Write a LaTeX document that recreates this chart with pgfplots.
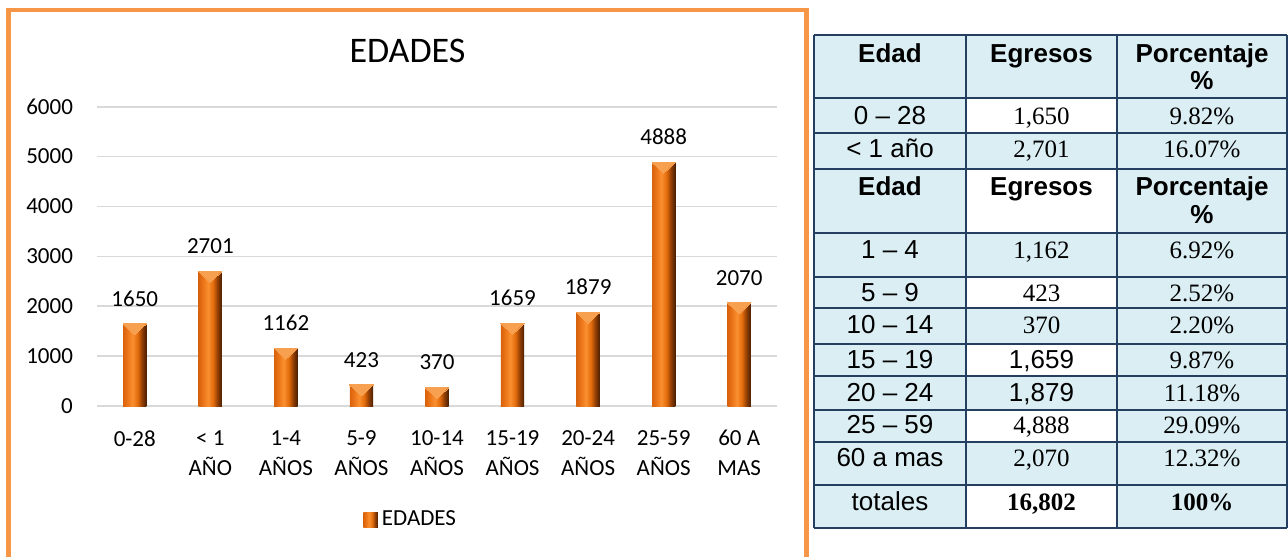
\documentclass[border=0pt]{standalone}
\usepackage{fontspec}
\setmainfont{Carlito}
\newfontfamily\arial{Liberation Sans}
\newfontfamily\tnr{Liberation Serif}
\usepackage{pgfplots}
\pgfplotsset{compat=1.18}
\definecolor{chartorange}{HTML}{F79646}
\definecolor{gridgray}{HTML}{D9D9D9}
\definecolor{tblue}{HTML}{DAEEF3}
\definecolor{tborder}{HTML}{243F60}
\definecolor{barlight}{HTML}{F7A050}
\definecolor{ba}{HTML}{D9620C}
\definecolor{bb}{HTML}{EC761A}
\definecolor{bc}{HTML}{FA9030}
\definecolor{bd}{HTML}{E36C0C}
\definecolor{be}{HTML}{8C3C04}
\definecolor{bf}{HTML}{4A1E00}
\pgfdeclarehorizontalshading{barshade}{100bp}{color(0bp)=(ba); color(25bp)=(ba); color(35bp)=(bb); color(45bp)=(bc); color(56bp)=(bd); color(66bp)=(be); color(75bp)=(bf); color(100bp)=(bf)}
\pgfplotsset{mybar/.style={ybar, bar width=11.65pt, draw=none, shade, shading=barshade,
  nodes near coords, point meta=explicit symbolic,
  every node near coord/.append style={font=\fontsize{11.5}{15}\selectfont, inner sep=0pt, yshift=8.5pt, text=black},
  legend image code/.code={\shade[shading=barshade] (0pt,-3.67pt) rectangle (7.35pt,3.67pt);}}}
\newcommand{\cell}[4]{\node[anchor=base, inner sep=0pt, font=#3] at (#1,#2) {#4};}
\newcommand{\fA}{\arial\fontsize{13}{15}\selectfont}
\newcommand{\fB}{\arial\bfseries\fontsize{13}{15}\selectfont}
\newcommand{\fT}{\tnr\fontsize{12.5}{15}\selectfont}
\newcommand{\fTB}{\tnr\bfseries\fontsize{12.5}{15}\selectfont}
\begin{document}
\begin{tikzpicture}
\useasboundingbox (0,0) rectangle (644pt,-278pt);
\begin{axis}[
  at={(48.5pt,-203pt)}, anchor=south west,
  scale only axis, width=340pt, height=149.65pt,
  xmin=-0.5, xmax=8.5, ymin=0, ymax=6000,
  xtick={0,...,8},
  xticklabels={0-28,{< 1\\AÑO},{1-4\\AÑOS},{5-9\\AÑOS},{10-14\\AÑOS},{15-19\\AÑOS},{20-24\\AÑOS},{25-59\\AÑOS},{60 A\\MAS}},
  ytick={0,1000,...,6000},
  yticklabels={0,1000,2000,3000,4000,5000,6000},
  axis lines*=left,
  axis line style={-},
  x axis line style={draw=gridgray, line width=0.8pt},
  y axis line style={draw=none},
  major tick length=0pt,
  ymajorgrids, grid style={draw=gridgray, line width=0.8pt},
  tick label style={font=\fontsize{11.5}{15}\selectfont, inner sep=0pt},
  yticklabel style={xshift=-11.85pt},
  xticklabel style={align=center, anchor=north, yshift=-12pt},
  clip=false,
  legend style={at={(0.391,-0.381)}, anchor=west, draw=none, fill=none, inner sep=0pt, font=\fontsize{11.5}{15}\selectfont},
]
\addplot[mybar] coordinates {(0,1650)[1650]};
\addlegendentry{EDADES}
\addplot[mybar, forget plot] coordinates {(1,2701)[2701]};
\addplot[mybar, forget plot] coordinates {(2,1162)[1162]};
\addplot[mybar, forget plot] coordinates {(3,423)[423]};
\addplot[mybar, forget plot] coordinates {(4,370)[370]};
\addplot[mybar, forget plot] coordinates {(5,1659)[1659]};
\addplot[mybar, forget plot] coordinates {(6,1879)[1879]};
\addplot[mybar, forget plot] coordinates {(7,4888)[4888]};
\addplot[mybar, forget plot] coordinates {(8,2070)[2070]};
\addplot[only marks, forget plot, mark=triangle*, mark size=6.73pt,
  mark options={draw=barlight, fill=barlight, line width=0pt, yshift=-1.83pt, yscale=-0.545}]
  coordinates {(0,1650) (1,2701) (2,1162) (3,423) (4,370) (5,1659) (6,1879) (7,4888) (8,2070)};
\end{axis}
\begin{scope}[x=0.5pt,y=-0.5pt]
\draw[chartorange, line width=2.25pt] (8.3,600) -- (8.3,10) -- (806.7,10) -- (806.7,600);
\node[anchor=base, inner sep=0pt, font=\fontsize{18}{22}\selectfont] at (407.5,63) {EDADES};
% table
\fill[tblue] (814,35) rectangle (1287,528);
\foreach \a/\b in {98/133,169/233,277/308,344/376,410/442,485/528}
  \fill[white] (966,\a) rectangle (1117,\b);
\foreach \y in {35,98,133,169,233,277,308,344,376,410,442,485,528}
  \draw[tborder, line width=1.1pt] (814,\y) -- (1287,\y);
\foreach \x in {814,966,1117,1287}
  \draw[tborder, line width=1.1pt] (\x,35) -- (\x,528);
\cell{890}{63}{\fB}{Edad}
\cell{1041.5}{63}{\fB}{Egresos}
\cell{1202}{63}{\fB}{Porcentaje}
\cell{1202}{90}{\fB}{\%}
\cell{890}{195}{\fB}{Edad}
\cell{1041.5}{195}{\fB}{Egresos}
\cell{1202}{195}{\fB}{Porcentaje}
\cell{1202}{223}{\fB}{\%}
\cell{890}{125}{\fA}{0 – 28}
\cell{1041.5}{125}{\fT}{1,650}
\cell{1202}{125}{\fT}{9.82\%}
\cell{890}{157}{\fA}{< 1 año}
\cell{1041.5}{157}{\fT}{2,701}
\cell{1202}{157}{\fT}{16.07\%}
\cell{890}{258}{\fA}{1 – 4}
\cell{1041.5}{258}{\fT}{1,162}
\cell{1202}{258}{\fT}{6.92\%}
\cell{890}{301}{\fA}{5 – 9}
\cell{1041.5}{301}{\fT}{423}
\cell{1202}{301}{\fT}{2.52\%}
\cell{890}{333}{\fA}{10 – 14}
\cell{1041.5}{333}{\fT}{370}
\cell{1202}{333}{\fT}{2.20\%}
\cell{890}{368}{\fA}{15 – 19}
\cell{1041.5}{368}{\fA}{1,659}
\cell{1202}{368}{\fT}{9.87\%}
\cell{890}{401}{\fA}{20 – 24}
\cell{1041.5}{401}{\fA}{1,879}
\cell{1202}{401}{\fT}{11.18\%}
\cell{890}{433}{\fA}{25 – 59}
\cell{1041.5}{433}{\fT}{4,888}
\cell{1202}{433}{\fT}{29.09\%}
\cell{890}{466}{\fA}{60 a mas}
\cell{1041.5}{466}{\fT}{2,070}
\cell{1202}{466}{\fT}{12.32\%}
\cell{890}{510}{\fA}{totales}
\cell{1041.5}{510}{\fTB}{16,802}
\cell{1202}{510}{\fTB}{100\%}
\end{scope}
\end{tikzpicture}
\end{document}
